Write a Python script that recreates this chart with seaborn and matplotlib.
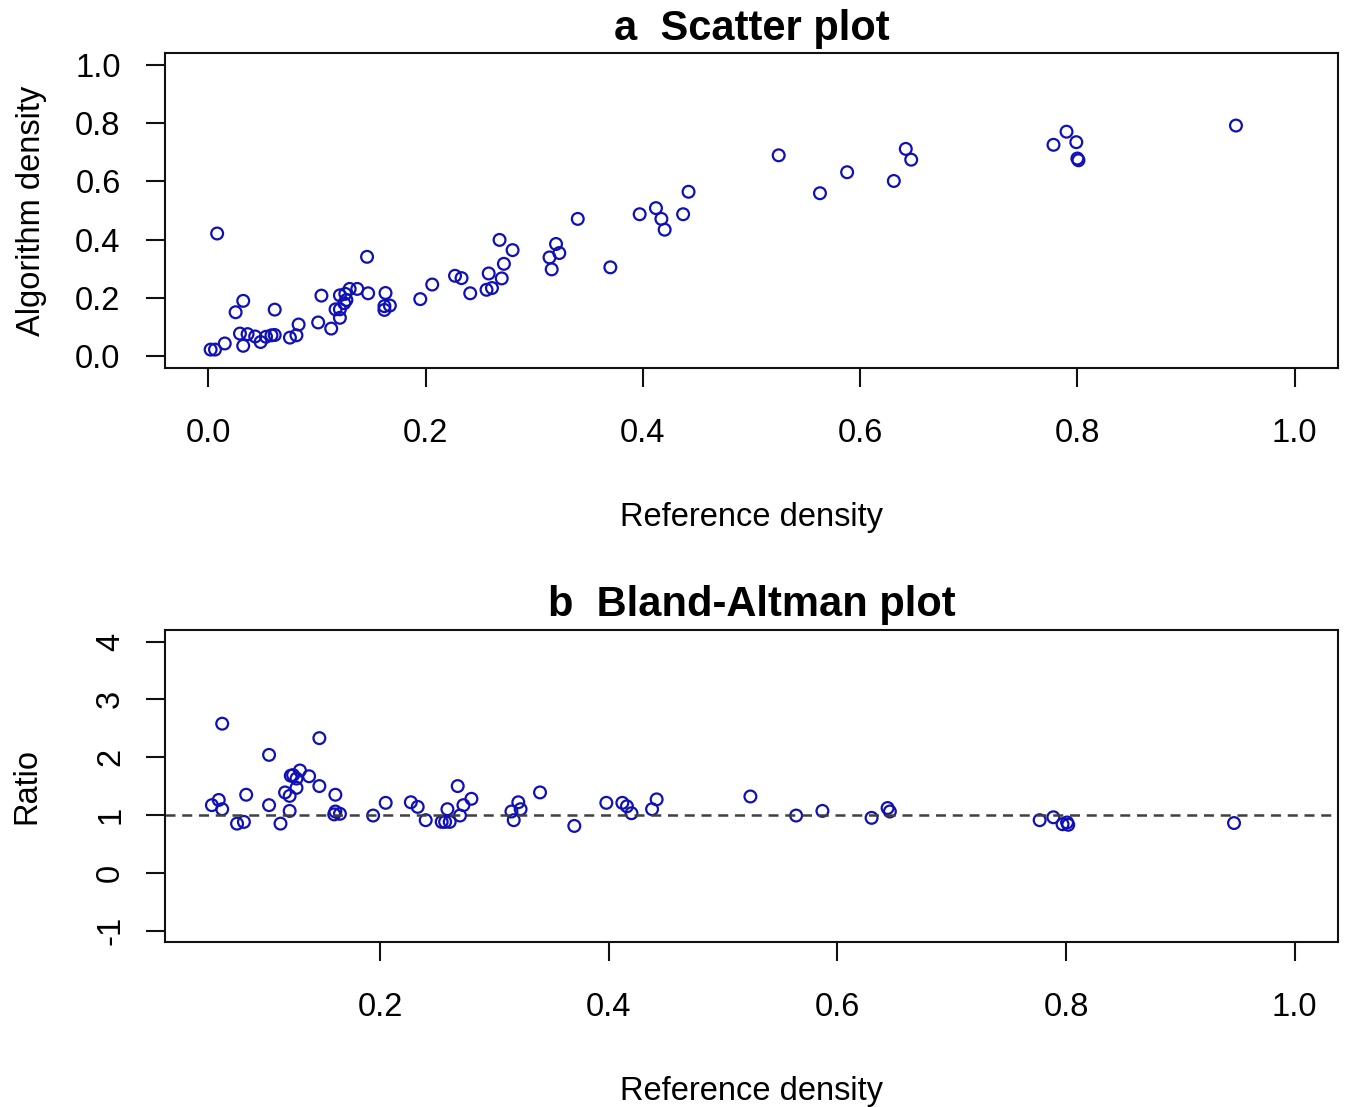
import pandas as pd
import seaborn as sns
import matplotlib
matplotlib.use("Agg")
import matplotlib.pyplot as plt

# a - scatter plot: reference density vs algorithm density
ref_a = [0.002, 0.006, 0.008, 0.015, 0.025, 0.029, 0.032, 0.032, 0.036, 0.043,
         0.048, 0.053, 0.058, 0.061, 0.061, 0.075, 0.081, 0.083, 0.101, 0.104,
         0.113, 0.117, 0.121, 0.121, 0.121, 0.125, 0.126, 0.127, 0.130, 0.137,
         0.146, 0.147, 0.162, 0.162, 0.163, 0.167, 0.195, 0.206, 0.227, 0.233,
         0.241, 0.256, 0.258, 0.261, 0.268, 0.270, 0.272, 0.280, 0.314, 0.316,
         0.320, 0.323, 0.340, 0.370, 0.397, 0.412, 0.417, 0.420, 0.437, 0.442,
         0.525, 0.563, 0.588, 0.631, 0.642, 0.647, 0.778, 0.790, 0.799, 0.800,
         0.801, 0.946]
algo_a = [0.023, 0.023, 0.421, 0.044, 0.151, 0.078, 0.190, 0.036, 0.076, 0.068,
          0.049, 0.067, 0.072, 0.073, 0.160, 0.064, 0.072, 0.109, 0.116, 0.208,
          0.095, 0.161, 0.161, 0.132, 0.209, 0.182, 0.214, 0.193, 0.231, 0.231,
          0.341, 0.216, 0.172, 0.159, 0.217, 0.174, 0.196, 0.246, 0.276, 0.268,
          0.216, 0.228, 0.284, 0.234, 0.399, 0.267, 0.317, 0.364, 0.339, 0.298,
          0.385, 0.354, 0.471, 0.305, 0.487, 0.508, 0.471, 0.434, 0.487, 0.564,
          0.689, 0.559, 0.631, 0.601, 0.711, 0.674, 0.725, 0.770, 0.734, 0.678,
          0.672, 0.791]

# b - Bland-Altman: reference density vs ratio
ref_b = [0.053, 0.059, 0.062, 0.062, 0.075, 0.081, 0.083, 0.103, 0.103, 0.113,
         0.117, 0.121, 0.121, 0.122, 0.124, 0.127, 0.127, 0.130, 0.138, 0.147,
         0.147, 0.161, 0.161, 0.165, 0.160, 0.194, 0.205, 0.227, 0.233, 0.240,
         0.254, 0.257, 0.259, 0.261, 0.268, 0.270, 0.273, 0.280, 0.315, 0.317,
         0.321, 0.323, 0.340, 0.370, 0.398, 0.412, 0.416, 0.420, 0.438, 0.442,
         0.524, 0.564, 0.587, 0.630, 0.644, 0.646, 0.777, 0.789, 0.797, 0.801,
         0.802, 0.947]
ratio_b = [1.17, 1.26, 2.58, 1.10, 0.85, 0.88, 1.35, 2.04, 1.17, 0.85,
           1.39, 1.33, 1.07, 1.68, 1.69, 1.63, 1.47, 1.77, 1.67, 2.33,
           1.50, 1.35, 1.06, 1.02, 1.01, 0.99, 1.21, 1.22, 1.14, 0.91,
           0.88, 0.88, 1.10, 0.88, 1.50, 0.99, 1.17, 1.28, 1.06, 0.91,
           1.22, 1.10, 1.39, 0.81, 1.21, 1.21, 1.15, 1.03, 1.10, 1.27,
           1.32, 0.99, 1.07, 0.95, 1.12, 1.06, 0.91, 0.96, 0.84, 0.87,
           0.83, 0.86]

xticks_a = [0.0, 0.2, 0.4, 0.6, 0.8, 1.0]
yticks_a = [0.0, 0.2, 0.4, 0.6, 0.8, 1.0]
xticks_b = [0.2, 0.4, 0.6, 0.8, 1.0]
yticks_b = [-1, 0, 1, 2, 3, 4]

df_a = pd.DataFrame({"ref": ref_a, "algo": algo_a})
df_b = pd.DataFrame({"ref": ref_b, "ratio": ratio_b})

sns.set_style("ticks")
plt.rcParams['font.family'] = ['Liberation Sans', 'DejaVu Sans']
plt.rcParams['text.color'] = 'black'
plt.rcParams['axes.labelcolor'] = 'black'

point_col = '#1010B8'
fs = 23.5

fig = plt.figure(figsize=(13.46, 11.07), dpi=100)
ax1 = fig.add_axes([0.1226, 0.6676, 0.8715, 0.2846])
ax2 = fig.add_axes([0.1226, 0.1490, 0.8715, 0.2818])

def style_points(ax):
    pts = ax.collections[-1]
    pts.set_facecolor('none')
    pts.set_edgecolor(point_col)
    pts.set_linewidth(1.6)

def style_axes(ax):
    for s in ax.spines.values():
        s.set_visible(True)
        s.set_linewidth(1.5)
        s.set_color('#111111')
    ax.tick_params(axis='both', length=14, width=1.5, color='#111111',
                   labelcolor='black', labelsize=fs, pad=22)

# Graph a: scatter
sns.scatterplot(x="ref", y="algo", data=df_a, ax=ax1, s=72, legend=False)
style_points(ax1)
ax1.set_xlim(-0.04, 1.04)
ax1.set_ylim(-0.04, 1.04)
ax1.set_xticks(xticks_a)
ax1.set_xticklabels([f"{t:.1f}" for t in xticks_a])
ax1.set_yticks(yticks_a)
ax1.set_yticklabels([f"{t:.1f}" for t in yticks_a])
style_axes(ax1)
ax1.tick_params(axis='y', pad=18)
ax1.set_xlabel('Reference density', fontsize=fs, labelpad=38)
ax1.set_ylabel('Algorithm density', fontsize=fs, labelpad=20)
ax1.set_title('a  Scatter plot', fontsize=30, fontweight='bold', pad=9)

# Graph b: Bland-Altman
sns.scatterplot(x="ref", y="ratio", data=df_b, ax=ax2, s=72, legend=False)
style_points(ax2)
ax2.axhline(1, ls=(0, (4, 2.7)), lw=1.8, color='#404040', zorder=1)
ax2.set_xlim(0.012, 1.038)
ax2.set_ylim(-1.2, 4.2)
ax2.set_xticks(xticks_b)
ax2.set_xticklabels([f"{t:.1f}" for t in xticks_b])
ax2.set_yticks(yticks_b)
ax2.set_yticklabels([str(t) for t in yticks_b], rotation=90, va='center')
style_axes(ax2)
ax2.tick_params(axis='y', pad=14)
ax2.set_xlabel('Reference density', fontsize=fs, labelpad=38)
ax2.set_ylabel('Ratio', fontsize=fs, labelpad=38)
ax2.set_title('b  Bland-Altman plot', fontsize=30, fontweight='bold', pad=10)

fig.savefig("out.png", dpi=100)
